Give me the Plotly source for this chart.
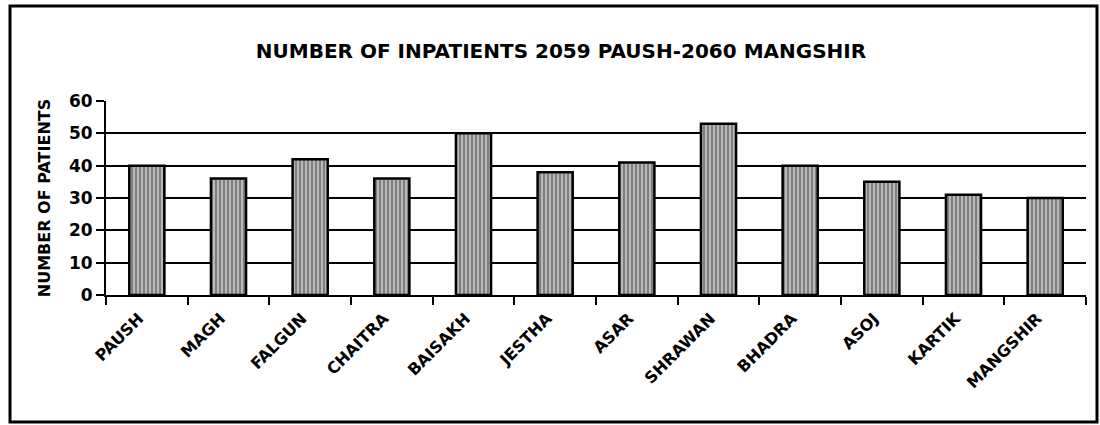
import plotly.graph_objects as go

months = ["PAUSH", "MAGH", "FALGUN", "CHAITRA", "BAISAKH", "JESTHA",
          "ASAR", "SHRAWAN", "BHADRA", "ASOJ", "KARTIK", "MANGSHIR"]
patients = [40, 36, 42, 36, 50, 38, 41, 53, 40, 35, 31, 30]
y_ticks = [0, 10, 20, 30, 40, 50, 60]
grid_vals = [10, 20, 30, 40, 50]

title_text = "NUMBER OF INPATIENTS 2059 PAUSH-2060 MANGSHIR"
y_title = "NUMBER OF PATIENTS"

FONT = "DejaVu Sans"

fig = go.Figure()
# invisible companion trace so the grid axis is drawn
fig.add_trace(go.Scatter(x=months, y=patients, yaxis="y", mode="markers",
                         marker=dict(opacity=0), hoverinfo="skip",
                         showlegend=False))
fig.add_trace(go.Bar(
    x=months, y=patients, yaxis="y2", width=0.43,
    marker=dict(color="white",
                line=dict(color="black", width=2.5),
                pattern=dict(shape="|", fgcolor="black", bgcolor="white",
                             size=4, solidity=0.78)),
    showlegend=False,
))

fig.update_layout(
    width=1100, height=425,
    paper_bgcolor="white", plot_bgcolor="white",
    margin=dict(l=106, r=14, t=101, b=130, autoexpand=False),
    title=dict(text=title_text, x=0.51, xanchor="center",
               y=0.88, yanchor="middle",
               font=dict(family=FONT, size=20, color="black", weight="bold")),
    xaxis=dict(type="category", range=[-0.5, len(months) - 0.5],
               tickson="boundaries", ticks="outside",
               ticklen=8, tickwidth=2, tickcolor="black",
               showline=True, linecolor="black", linewidth=2,
               tickangle=-45, showgrid=False, automargin=False,
               ticklabelstandoff=6, ticklabelshift=-8,
               tickfont=dict(family=FONT, size=16, color="black", weight="bold")),
    yaxis=dict(range=[0, 60], tickvals=grid_vals, showticklabels=False,
               ticks="", showgrid=True, gridcolor="black", gridwidth=2,
               zeroline=False, showline=False, automargin=False),
    yaxis2=dict(overlaying="y", side="left", range=[0, 60], tickvals=y_ticks,
                ticks="outside", ticklen=8, tickwidth=2, tickcolor="black",
                showline=True, linecolor="black", linewidth=2,
                showgrid=False, zeroline=False, automargin=False,
                tickfont=dict(family=FONT, size=17, color="black", weight="bold"),
                title=dict(text=y_title, standoff=14,
                           font=dict(family=FONT, size=16, color="black",
                                     weight="bold"))),
)

fig.add_shape(type="rect", xref="paper", yref="paper",
              x0=(10 - 106) / 980, x1=(1097 - 106) / 980,
              y0=(425 - 130 - 422) / 194, y1=(425 - 130 - 6) / 194,
              line=dict(color="black", width=3), layer="below")

fig.write_html("out.html", config={"displayModeBar": False},
               post_script="document.body.style.margin='0';")
